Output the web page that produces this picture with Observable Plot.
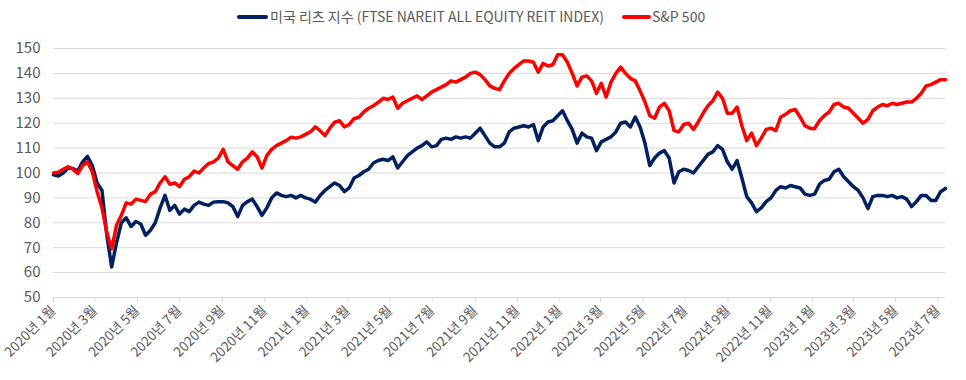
<!DOCTYPE html>
<html>
<head>
<meta charset="utf-8">
<script src="https://cdn.jsdelivr.net/npm/d3@7"></script>
<script src="https://cdn.jsdelivr.net/npm/@observablehq/plot@0.6"></script>
<style>
  html, body { margin: 0; padding: 0; background: #fff; }
  #wrap { position: relative; width: 966px; height: 380px; overflow: hidden; font-family: "Noto Sans CJK KR", "Noto Sans", sans-serif; }
  .lg-line { position: absolute; height: 4px; border-radius: 2px; top: 15px; }
  .lg-text { position: absolute; top: 6px; font-size: 14px; color: #595959; white-space: nowrap; line-height: 20px; }
  #chart { position: absolute; left: 0; top: 34px; }
</style>
</head>
<body>
<div id="wrap">
  <div class="lg-line" style="left:237px;width:31px;background:#002060"></div>
  <div class="lg-text" style="left:270px">미국 리츠 지수 (FTSE NAREIT ALL EQUITY REIT INDEX)</div>
  <div class="lg-line" style="left:622px;width:29px;background:#ff0000"></div>
  <div class="lg-text" style="left:652px">S&amp;P 500</div>
  <div id="chart"></div>
</div>
<script>
// Weekly observations starting 2020-01-01 (index normalised to 100)
const seriesNames = ["미국 리츠 지수 (FTSE NAREIT ALL EQUITY REIT INDEX)", "S&P 500"];
const startDate = "2020-01-01";
const endDate = "2023-07-12";
const yTickValues = [50, 60, 70, 80, 90, 100, 110, 120, 130, 140, 150];

const reit = [
  99.3,98.8,100,102,101.8,100.8,104.5,106.7,103,96,
  93,75,62.3,72,80,82,78.5,80.5,79.5,75,
  77,80,86,91,85,87,83.5,85.5,84.5,87,
  88.3,87.5,87,88.3,88.5,88.5,88,86.5,82.5,87,
  88.5,89.5,86.5,83,86,90,92,91,
  90.5,91,90,91,90,89.5,88.3,91,93,94.5,
  96,95,92.5,94,98,99,100.5,101.5,104,105,
  105.5,105,106.5,102,104.5,107,108.5,110,111,112.5,
  110.5,111,113.5,114,113.5,114.5,114,114.5,114,116,
  118,115,112,110.5,110.5,
  112,116.5,118,118.5,119,118.5,119.5,113,118.5,120.5,
  121,123,125,121,117.5,112,116,114.5,114,109,
  112.5,113.5,114.5,116.5,120,120.5,118.5,122.5,118.5,112,
  103,106,108,109,106,96,100.5,101.5,101,100,
  102.5,105,107.5,108.5,111,109.5,104.5,101.5,105,98,
  90.5,88,84.5,86,88.5,90,93,94.5,94,95,
  94.5,94,91.5,91,91.5,95.5,97,97.5,100.5,101.5,
  98.5,96.5,94.5,93,90,85.7,90.5,91,91,90.5,
  91,90,90.5,89.5,86.5,88.5,91,91,89,89,
  92.5,93.8
];

const sp500 = [
  100,100.3,101.5,102.5,101.5,99.8,103,104.5,100.5,92.5,
  86,76,69.5,79,83,88,87.5,89.5,89,88.5,
  91.5,92.5,96,98.5,95.5,96,94.5,97.5,98.5,100.8,
  100,102,103.8,104.5,106,109.5,104.5,103,101.5,104.5,
  106,108.5,106.5,102,107,109.5,111,112,
  113,114.4,114,114.5,115.5,116.5,118.5,117,115,118,
  120.4,121,118.5,119.5,121.8,122.4,124.5,126,127,128.4,
  130,129.5,130.5,126,128,129,130,131,129.5,131,
  132.5,133.5,134.5,135.5,137,136.5,137.5,138.5,140,140.5,
  139.5,137.5,135,134,133.5,
  137,140,142,143.5,145,145,144.5,140.5,144,143,
  143.5,147.5,147.5,144.5,140,135,138.5,139,137,132,
  136,130.5,136.5,140,142.5,140,138,137,133,128.5,
  123,122,126.5,128,125,117,116.5,119.5,120,117.5,
  120.5,124,127,129,132.5,130,124,124,126.5,119,
  113,116,111,114,117.5,118,117,122.5,123.5,125,
  125.5,122.5,119,118,117.8,121,123,124.5,127.5,128,
  126.5,126,124,122,120,121.5,125,126.5,127.5,127,
  128,127.5,128,128.5,128.5,130,132,135,135.5,136.5,
  137.5,137.5
];

const start = new Date(startDate + "T00:00:00Z");
const end = new Date(endDate + "T00:00:00Z");
const rows = reit.map((v, i) => ({
  date: d3.utcDay.offset(start, 7 * i),
  reit: v,
  sp: sp500[i]
}));
const xTicks = d3.utcMonth.every(2).range(start, d3.utcDay.offset(end, 1));
const fmt = d => `${d.getUTCFullYear()}년 ${d.getUTCMonth() + 1}월`;

const chart = Plot.plot({
  width: 966,
  height: 343,
  marginLeft: 53,
  marginRight: 21,
  marginTop: 14,
  marginBottom: 80,
  style: { fontFamily: "'Noto Sans CJK KR', 'Noto Sans', sans-serif", fontSize: "14px", color: "#595959", background: "transparent", overflow: "visible" },
  x: { type: "utc", domain: [start, end] },
  y: { domain: [50, 150] },
  marks: [
    Plot.gridY(yTickValues, { stroke: "#d9d9d9", strokeOpacity: 1, strokeWidth: 1 }),
    Plot.axisY(yTickValues, { tickSize: 0, tickPadding: 13, fontSize: 15, fill: "#595959", label: null }),
    Plot.axisX(xTicks, { tickSize: 5, stroke: "#d9d9d9", strokeOpacity: 1, tickRotate: -45, tickPadding: 6, tickFormat: fmt, fill: "#595959", fontSize: 13.5, label: null }),
    Plot.line(rows, { x: "date", y: "reit", stroke: "#002060", strokeWidth: 3.5 }),
    Plot.line(rows, { x: "date", y: "sp", stroke: "#ff0000", strokeWidth: 3.5 })
  ]
});
document.getElementById("chart").appendChild(chart);
</script>
</body>
</html>
